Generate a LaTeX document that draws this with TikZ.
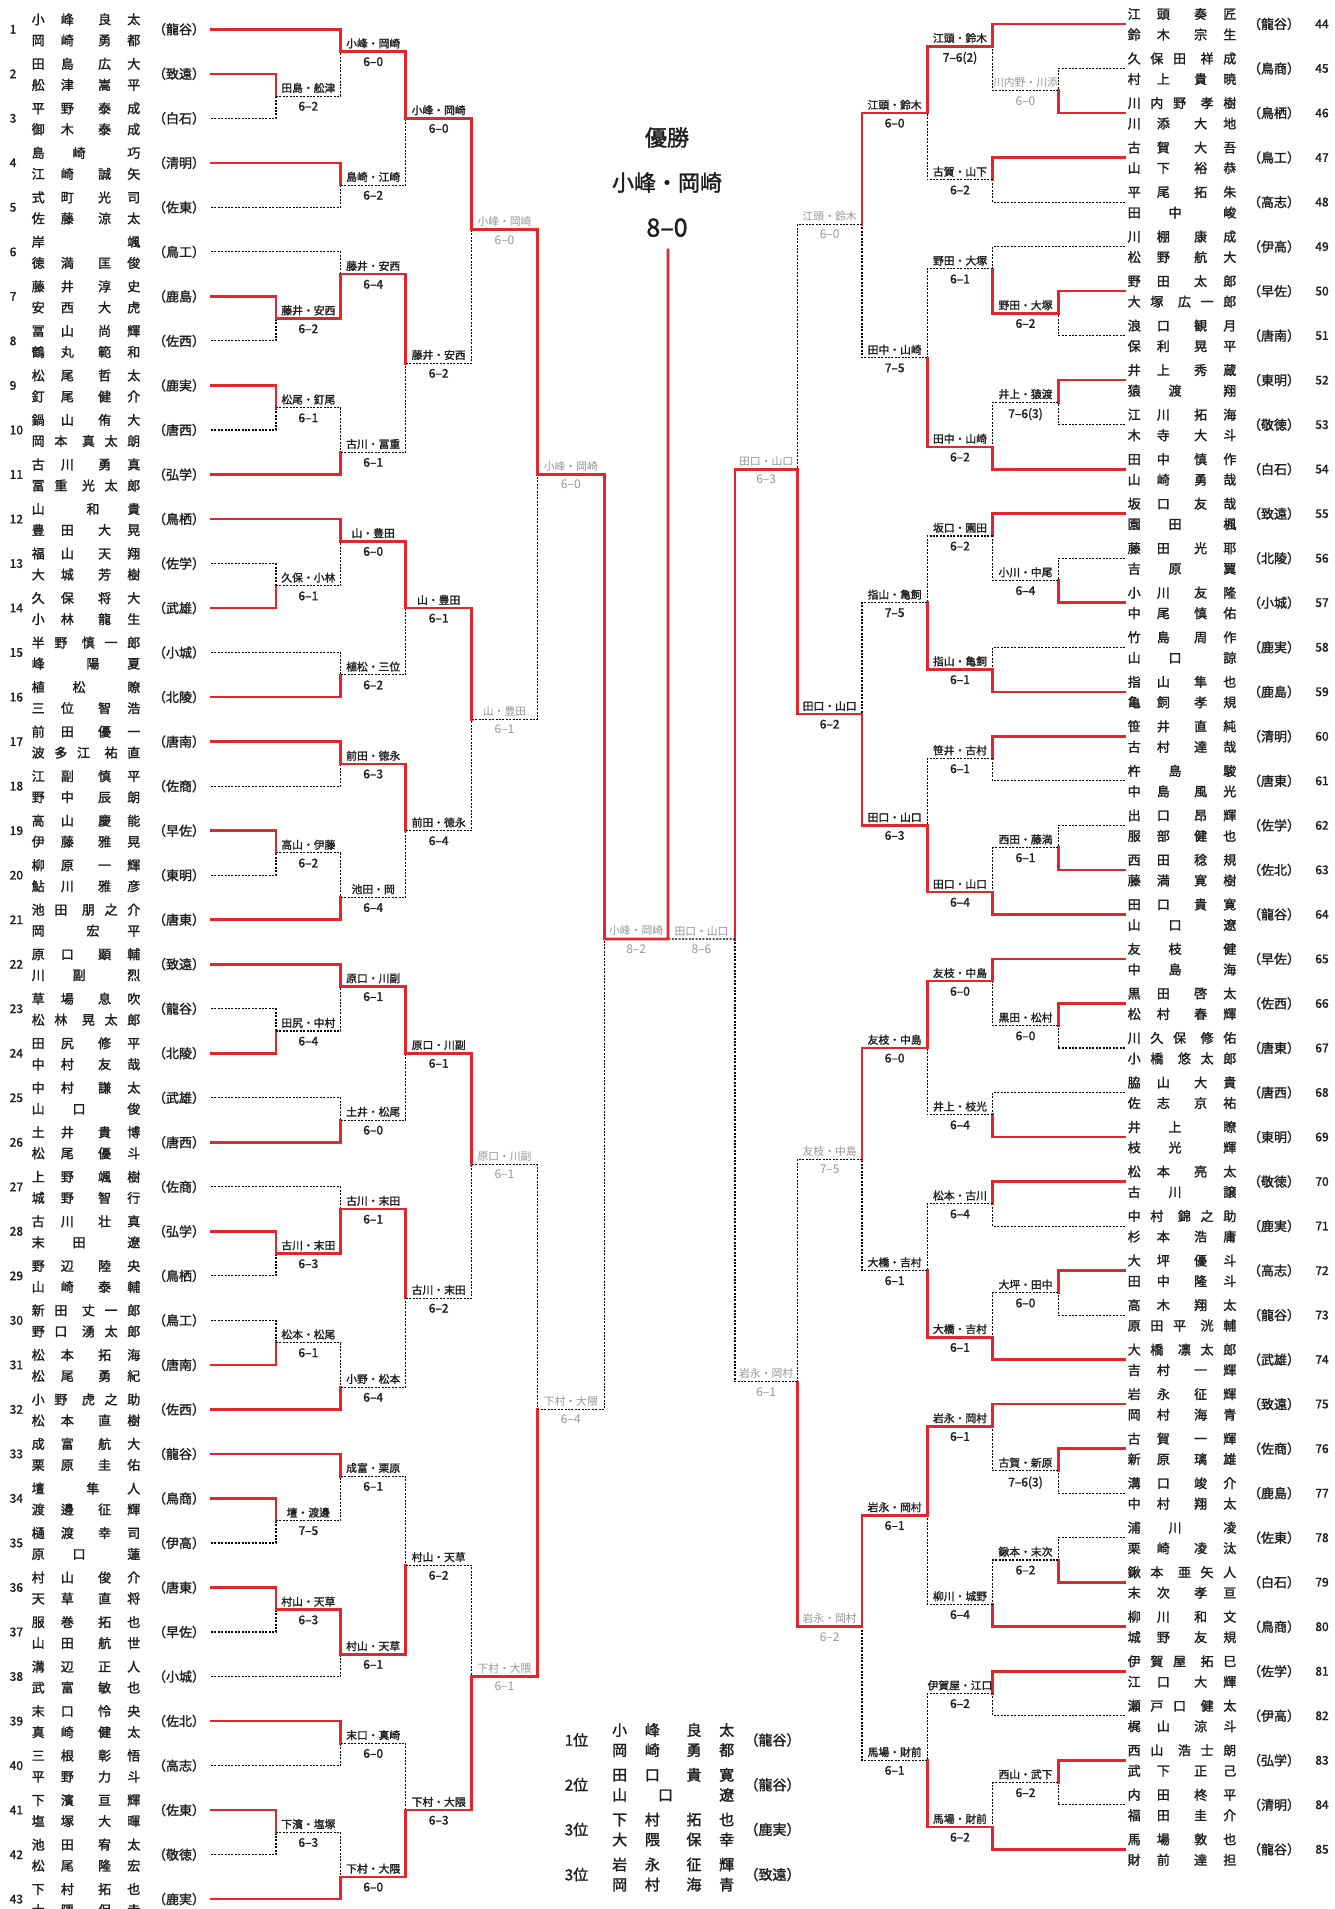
\documentclass[tikz,border=0pt]{standalone}
\usepackage{fontspec}
\setmainfont{Noto Sans CJK JP}[FakeBold=1.6]
\newfontfamily\thinjp{Noto Sans CJK JP}
\usetikzlibrary{positioning}
\definecolor{linered}{RGB}{228,38,44}
\definecolor{ink}{RGB}{30,30,30}
\definecolor{faded}{RGB}{150,150,150}

\newcommand\pn[3][108.6pt]{\hbox to #1{\spaceskip=0pt plus 2fill\relax #2\hskip 0pt plus 3fill\relax #3}}
\newcommand\ly[1]{29.3+(#1-1)*44.52}
\newcommand\ry[1]{24+(#1-44)*44.52}

\newcommand\lentry[6]{%
    \node[num, anchor=west] (k#1) at (9.5,{\ly{#1}}) {#1};
    \node[who] (a#1) at (31.5,{\ly{#1}-10}) {\pn{#2}{#3}};
    \node[who] (b#1) at (31.5,{\ly{#1}+11}) {\pn{#4}{#5}};
    \node[club] (s#1) at (179,{\ly{#1}}) {（#6）};
    \coordinate (L#1) at (211,{\ly{#1}});
}
\newcommand\rentry[6]{%
    \node[num] (k#1) at (1322,{\ry{#1}}) {#1};
    \node[who] (a#1) at (1127.5,{\ry{#1}-10}) {\pn{#2}{#3}};
    \node[who] (b#1) at (1127.5,{\ry{#1}+10.5}) {\pn{#4}{#5}};
    \node[club] (s#1) at (1274,{\ry{#1}}) {（#6）};
    \coordinate (R#1) at (1125,{\ry{#1}});
}
\newcommand\lmatch[9]{%
    \coordinate (#1) at (#2,{\ly{#4}});
    \draw[lose] (#6) -| (#1);
    \draw[win] (#5) -| (#1);
    \node[tag, #9] (#1t) at ({(#2+#3)/2},{\ly{#4}}) {#7};
    \node[pts, #9] (#1s) at ({(#2+#3)/2},{\ly{#4}}) {#8};
}
\newcommand\rmatch[9]{%
    \coordinate (#1) at (#2,{\ry{#4}});
    \draw[lose] (#6) -| (#1);
    \draw[win] (#5) -| (#1);
    \node[tag, #9] (#1t) at ({(#2+#3)/2},{\ry{#4}}) {#7};
    \node[pts, #9] (#1s) at ({(#2+#3)/2},{\ry{#4}}) {#8};
}

\begin{document}
\begin{tikzpicture}[x=1pt, y=-1pt,
    win/.style={draw=linered, line width=2.6pt, line cap=rect},
    lose/.style={draw=black, line width=1.1pt, dash pattern=on 2pt off 1.4pt},
    who/.style={anchor=west, inner sep=0pt, font=\fontsize{13}{13}\selectfont, text=ink},
    club/.style={inner sep=0pt, font=\fontsize{13}{13}\selectfont, text=ink},
    num/.style={inner sep=0pt, font=\fontsize{12}{12}\selectfont, text=ink},
    tag/.style={above=2.5pt, inner sep=0.5pt, font=\fontsize{10.8}{10.8}\selectfont},
    pts/.style={below=5pt, inner sep=0.5pt, font=\fontsize{12}{12}\selectfont},
    dark/.style={text=ink},
    pale/.style={text=faded, execute at begin node=\thinjp},
    headline/.style={inner sep=0pt, font=\fontsize{22}{22}\selectfont, text=ink},
    rank/.style={inner sep=0pt, font=\fontsize{15}{15}\selectfont, text=ink}]
    \useasboundingbox (0,0) rectangle (1335,1909);
    \fill[white] (0,0) rectangle (1335,1909);

    \lentry{1}{小 峰}{良 太}{岡 崎}{勇 都}{龍谷}
    \lentry{2}{田 島}{広 大}{舩 津}{嵩 平}{致遠}
    \lentry{3}{平 野}{泰 成}{御 木}{泰 成}{白石}
    \lentry{4}{島 崎}{巧}{江 崎}{誠 矢}{清明}
    \lentry{5}{式 町}{光 司}{佐 藤}{涼 太}{佐東}
    \lentry{6}{岸}{颯}{徳 満}{匡 俊}{鳥工}
    \lentry{7}{藤 井}{淳 史}{安 西}{大 虎}{鹿島}
    \lentry{8}{冨 山}{尚 輝}{鶴 丸}{範 和}{佐西}
    \lentry{9}{松 尾}{哲 太}{釘 尾}{健 介}{鹿実}
    \lentry{10}{鍋 山}{侑 大}{岡 本}{真 太 朗}{唐西}
    \lentry{11}{古 川}{勇 真}{冨 重}{光 太 郎}{弘学}
    \lentry{12}{山}{和 貴}{豊 田}{大 晃}{鳥栖}
    \lentry{13}{福 山}{天 翔}{大 城}{芳 樹}{佐学}
    \lentry{14}{久 保}{将 大}{小 林}{龍 生}{武雄}
    \lentry{15}{半 野}{慎 一 郎}{峰}{陽 夏}{小城}
    \lentry{16}{植 松}{瞭}{三 位}{智 浩}{北陵}
    \lentry{17}{前 田}{優 一}{波 多 江}{祐 直}{唐南}
    \lentry{18}{江 副}{慎 平}{野 中}{辰 朗}{佐商}
    \lentry{19}{高 山}{慶 能}{伊 藤}{雅 晃}{早佐}
    \lentry{20}{柳 原}{一 輝}{鮎 川}{雅 彦}{東明}
    \lentry{21}{池 田}{朋 之 介}{岡}{宏 平}{唐東}
    \lentry{22}{原 口}{顕 輔}{川 副}{烈}{致遠}
    \lentry{23}{草 場}{息 吹}{松 林}{晃 太 郎}{龍谷}
    \lentry{24}{田 尻}{修 平}{中 村}{友 哉}{北陵}
    \lentry{25}{中 村}{謙 太}{山 口}{俊}{武雄}
    \lentry{26}{土 井}{貴 博}{松 尾}{優 斗}{唐西}
    \lentry{27}{上 野}{颯 樹}{城 野}{智 行}{佐商}
    \lentry{28}{古 川}{壮 真}{末 田}{遼}{弘学}
    \lentry{29}{野 辺}{陸 央}{山 崎}{泰 輔}{鳥栖}
    \lentry{30}{新 田}{丈 一 郎}{野 口}{湧 太 郎}{鳥工}
    \lentry{31}{松 本}{拓 海}{松 尾}{勇 紀}{唐南}
    \lentry{32}{小 野}{虎 之 助}{松 本}{直 樹}{佐西}
    \lentry{33}{成 富}{航 大}{栗 原}{圭 佑}{龍谷}
    \lentry{34}{壇}{隼 人}{渡 邊}{征 輝}{鳥商}
    \lentry{35}{樋 渡}{幸 司}{原 口}{蓮}{伊高}
    \lentry{36}{村 山}{俊 介}{天 草}{直 将}{唐東}
    \lentry{37}{服 巻}{拓 也}{山 田}{航 世}{早佐}
    \lentry{38}{溝 辺}{正 人}{武 富}{敏 也}{小城}
    \lentry{39}{末 口}{怜 央}{真 崎}{健 太}{佐北}
    \lentry{40}{三 根}{彰 悟}{平 野}{力 斗}{高志}
    \lentry{41}{下 濱}{亘 輝}{塩 塚}{大 暉}{佐東}
    \lentry{42}{池 田}{宥 太}{松 尾}{隆 宏}{敬徳}
    \lentry{43}{下 村}{拓 也}{大 隈}{保 幸}{鹿実}

    \rentry{44}{江 頭}{奏 匠}{鈴 木}{宗 生}{龍谷}
    \rentry{45}{久 保 田}{祥 成}{村 上}{貴 暁}{鳥商}
    \rentry{46}{川 内 野}{孝 樹}{川 添}{大 地}{鳥栖}
    \rentry{47}{古 賀}{大 吾}{山 下}{裕 恭}{鳥工}
    \rentry{48}{平 尾}{拓 朱}{田 中}{峻}{高志}
    \rentry{49}{川 棚}{康 成}{松 野}{航 大}{伊高}
    \rentry{50}{野 田}{太 郎}{大 塚}{広 一 郎}{早佐}
    \rentry{51}{浪 口}{観 月}{保 利}{晃 平}{唐南}
    \rentry{52}{井 上}{秀 蔵}{猿 渡}{翔}{東明}
    \rentry{53}{江 川}{拓 海}{木 寺}{大 斗}{敬徳}
    \rentry{54}{田 中}{慎 作}{山 崎}{勇 哉}{白石}
    \rentry{55}{坂 口}{友 哉}{園 田}{楓}{致遠}
    \rentry{56}{藤 田}{光 耶}{吉 原}{翼}{北陵}
    \rentry{57}{小 川}{友 隆}{中 尾}{慎 佑}{小城}
    \rentry{58}{竹 島}{周 作}{山 口}{諒}{鹿実}
    \rentry{59}{指 山}{隼 也}{亀 飼}{孝 規}{鹿島}
    \rentry{60}{笹 井}{直 純}{古 村}{達 哉}{清明}
    \rentry{61}{杵 島}{駿}{中 島}{風 光}{唐東}
    \rentry{62}{出 口}{昂 輝}{服 部}{健 也}{佐学}
    \rentry{63}{西 田}{稔 規}{藤 満}{寛 樹}{佐北}
    \rentry{64}{田 口}{貴 寛}{山 口}{遼}{龍谷}
    \rentry{65}{友 枝}{健}{中 島}{海}{早佐}
    \rentry{66}{黒 田}{啓 太}{松 村}{春 輝}{佐西}
    \rentry{67}{川 久 保}{修 佑}{小 橋}{悠 太 郎}{唐東}
    \rentry{68}{脇 山}{大 貴}{佐 志}{京 祐}{唐西}
    \rentry{69}{井 上}{瞭}{枝 光}{輝}{東明}
    \rentry{70}{松 本}{亮 太}{古 川}{譲}{敬徳}
    \rentry{71}{中 村}{錦 之 助}{杉 本}{浩 庸}{鹿実}
    \rentry{72}{大 坪}{優 斗}{田 中}{隆 斗}{高志}
    \rentry{73}{高 木}{翔 太}{原 田 平}{洸 輔}{龍谷}
    \rentry{74}{大 橋}{凛 太 郎}{吉 村}{一 輝}{武雄}
    \rentry{75}{岩 永}{征 輝}{岡 村}{海 青}{致遠}
    \rentry{76}{古 賀}{一 輝}{新 原}{璃 雄}{佐商}
    \rentry{77}{溝 口}{竣 介}{中 村}{翔 太}{鹿島}
    \rentry{78}{浦 川}{凌}{栗 崎}{凌 汰}{佐東}
    \rentry{79}{鍬 本}{亜 矢 人}{末 次}{孝 亘}{白石}
    \rentry{80}{柳 川}{和 文}{城 野}{友 規}{鳥商}
    \rentry{81}{伊 賀 屋}{拓 巳}{江 口}{大 輝}{佐学}
    \rentry{82}{瀬 戸 口}{健 太}{梶 山}{涼 斗}{伊高}
    \rentry{83}{西 山}{浩 士 朗}{武 下}{正 己}{弘学}
    \rentry{84}{内 田}{柊 平}{福 田}{圭 介}{清明}
    \rentry{85}{馬 場}{敦 也}{財 前}{達 担}{龍谷}

    \lmatch{g2to3}{276}{340.7}{2.5}{L2}{L3}{田島・舩津}{6–2}{dark}
    \lmatch{g1to3}{340.7}{405.7}{1.5}{L1}{g2to3}{小峰・岡崎}{6–0}{dark}
    \lmatch{g4to5}{340.7}{405.7}{4.5}{L4}{L5}{島崎・江崎}{6–2}{dark}
    \lmatch{g1to5}{405.7}{471.7}{3}{g1to3}{g4to5}{小峰・岡崎}{6–0}{dark}
    \lmatch{g7to8}{276}{340.7}{7.5}{L7}{L8}{藤井・安西}{6–2}{dark}
    \lmatch{g6to8}{340.7}{405.7}{6.5}{g7to8}{L6}{藤井・安西}{6–4}{dark}
    \lmatch{g9to10}{276}{340.7}{9.5}{L9}{L10}{松尾・釘尾}{6–1}{dark}
    \lmatch{g9to11}{340.7}{405.7}{10.5}{L11}{g9to10}{古川・冨重}{6–1}{dark}
    \lmatch{g6to11}{405.7}{471.7}{8.5}{g6to8}{g9to11}{藤井・安西}{6–2}{dark}
    \lmatch{g1to11}{471.7}{537.3}{5.5}{g1to5}{g6to11}{小峰・岡崎}{6–0}{pale}
    \lmatch{g13to14}{276}{340.7}{13.5}{L14}{L13}{久保・小林}{6–1}{dark}
    \lmatch{g12to14}{340.7}{405.7}{12.5}{L12}{g13to14}{山・豊田}{6–0}{dark}
    \lmatch{g15to16}{340.7}{405.7}{15.5}{L16}{L15}{植松・三位}{6–2}{dark}
    \lmatch{g12to16}{405.7}{471.7}{14}{g12to14}{g15to16}{山・豊田}{6–1}{dark}
    \lmatch{g17to18}{340.7}{405.7}{17.5}{L17}{L18}{前田・徳永}{6–3}{dark}
    \lmatch{g19to20}{276}{340.7}{19.5}{L19}{L20}{高山・伊藤}{6–2}{dark}
    \lmatch{g19to21}{340.7}{405.7}{20.5}{L21}{g19to20}{池田・岡}{6–4}{dark}
    \lmatch{g17to21}{405.7}{471.7}{19}{g17to18}{g19to21}{前田・徳永}{6–4}{dark}
    \lmatch{g12to21}{471.7}{537.3}{16.5}{g12to16}{g17to21}{山・豊田}{6–1}{pale}
    \lmatch{g1to21}{537.3}{604.3}{11}{g1to11}{g12to21}{小峰・岡崎}{6–0}{pale}
    \lmatch{g23to24}{276}{340.7}{23.5}{L24}{L23}{田尻・中村}{6–4}{dark}
    \lmatch{g22to24}{340.7}{405.7}{22.5}{L22}{g23to24}{原口・川副}{6–1}{dark}
    \lmatch{g25to26}{340.7}{405.7}{25.5}{L26}{L25}{土井・松尾}{6–0}{dark}
    \lmatch{g22to26}{405.7}{471.7}{24}{g22to24}{g25to26}{原口・川副}{6–1}{dark}
    \lmatch{g28to29}{276}{340.7}{28.5}{L28}{L29}{古川・末田}{6–3}{dark}
    \lmatch{g27to29}{340.7}{405.7}{27.5}{g28to29}{L27}{古川・末田}{6–1}{dark}
    \lmatch{g30to31}{276}{340.7}{30.5}{L31}{L30}{松本・松尾}{6–1}{dark}
    \lmatch{g30to32}{340.7}{405.7}{31.5}{L32}{g30to31}{小野・松本}{6–4}{dark}
    \lmatch{g27to32}{405.7}{471.7}{29.5}{g27to29}{g30to32}{古川・末田}{6–2}{dark}
    \lmatch{g22to32}{471.7}{537.3}{26.5}{g22to26}{g27to32}{原口・川副}{6–1}{pale}
    \lmatch{g34to35}{276}{340.7}{34.5}{L34}{L35}{壇・渡邊}{7–5}{dark}
    \lmatch{g33to35}{340.7}{405.7}{33.5}{L33}{g34to35}{成富・栗原}{6–1}{dark}
    \lmatch{g36to37}{276}{340.7}{36.5}{L36}{L37}{村山・天草}{6–3}{dark}
    \lmatch{g36to38}{340.7}{405.7}{37.5}{g36to37}{L38}{村山・天草}{6–1}{dark}
    \lmatch{g33to38}{405.7}{471.7}{35.5}{g36to38}{g33to35}{村山・天草}{6–2}{dark}
    \lmatch{g39to40}{340.7}{405.7}{39.5}{L39}{L40}{末口・真崎}{6–0}{dark}
    \lmatch{g41to42}{276}{340.7}{41.5}{L41}{L42}{下濱・塩塚}{6–3}{dark}
    \lmatch{g41to43}{340.7}{405.7}{42.5}{L43}{g41to42}{下村・大隈}{6–0}{dark}
    \lmatch{g39to43}{405.7}{471.7}{41}{g41to43}{g39to40}{下村・大隈}{6–3}{dark}
    \lmatch{g33to43}{471.7}{537.3}{38}{g39to43}{g33to38}{下村・大隈}{6–1}{pale}
    \lmatch{g22to43}{537.3}{604.3}{32}{g33to43}{g22to32}{下村・大隈}{6–4}{pale}
    \lmatch{g1to43}{604.3}{668}{21.434}{g1to21}{g22to43}{小峰・岡崎}{8–2}{pale}

    \rmatch{h45to46}{1058.3}{992.7}{45.5}{R46}{R45}{川内野・川添}{6–0}{pale}
    \rmatch{h44to46}{992.7}{927.3}{44.5}{R44}{h45to46}{江頭・鈴木}{7–6(2)}{dark}
    \rmatch{h47to48}{992.7}{927.3}{47.5}{R47}{R48}{古賀・山下}{6–2}{dark}
    \rmatch{h44to48}{927.3}{862}{46}{h44to46}{h47to48}{江頭・鈴木}{6–0}{dark}
    \rmatch{h50to51}{1058.3}{992.7}{50.5}{R50}{R51}{野田・大塚}{6–2}{dark}
    \rmatch{h49to51}{992.7}{927.3}{49.5}{h50to51}{R49}{野田・大塚}{6–1}{dark}
    \rmatch{h52to53}{1058.3}{992.7}{52.5}{R52}{R53}{井上・猿渡}{7–6(3)}{dark}
    \rmatch{h52to54}{992.7}{927.3}{53.5}{R54}{h52to53}{田中・山崎}{6–2}{dark}
    \rmatch{h49to54}{927.3}{862}{51.5}{h52to54}{h49to51}{田中・山崎}{7–5}{dark}
    \rmatch{h44to54}{862}{797.3}{48.5}{h44to48}{h49to54}{江頭・鈴木}{6–0}{pale}
    \rmatch{h56to57}{1058.3}{992.7}{56.5}{R57}{R56}{小川・中尾}{6–4}{dark}
    \rmatch{h55to57}{992.7}{927.3}{55.5}{R55}{h56to57}{坂口・園田}{6–2}{dark}
    \rmatch{h58to59}{992.7}{927.3}{58.5}{R59}{R58}{指山・亀飼}{6–1}{dark}
    \rmatch{h55to59}{927.3}{862}{57}{h58to59}{h55to57}{指山・亀飼}{7–5}{dark}
    \rmatch{h60to61}{992.7}{927.3}{60.5}{R60}{R61}{笹井・古村}{6–1}{dark}
    \rmatch{h62to63}{1058.3}{992.7}{62.5}{R63}{R62}{西田・藤満}{6–1}{dark}
    \rmatch{h62to64}{992.7}{927.3}{63.5}{R64}{h62to63}{田口・山口}{6–4}{dark}
    \rmatch{h60to64}{927.3}{862}{62}{h62to64}{h60to61}{田口・山口}{6–3}{dark}
    \rmatch{h55to64}{862}{797.3}{59.5}{h60to64}{h55to59}{田口・山口}{6–2}{dark}
    \rmatch{h44to64}{797.3}{735}{54}{h55to64}{h44to54}{田口・山口}{6–3}{pale}
    \rmatch{h66to67}{1058.3}{992.7}{66.5}{R66}{R67}{黒田・松村}{6–0}{dark}
    \rmatch{h65to67}{992.7}{927.3}{65.5}{R65}{h66to67}{友枝・中島}{6–0}{dark}
    \rmatch{h68to69}{992.7}{927.3}{68.5}{R69}{R68}{井上・枝光}{6–4}{dark}
    \rmatch{h65to69}{927.3}{862}{67}{h65to67}{h68to69}{友枝・中島}{6–0}{dark}
    \rmatch{h70to71}{992.7}{927.3}{70.5}{R70}{R71}{松本・古川}{6–4}{dark}
    \rmatch{h72to73}{1058.3}{992.7}{72.5}{R72}{R73}{大坪・田中}{6–0}{dark}
    \rmatch{h72to74}{992.7}{927.3}{73.5}{R74}{h72to73}{大橋・吉村}{6–1}{dark}
    \rmatch{h70to74}{927.3}{862}{72}{h72to74}{h70to71}{大橋・吉村}{6–1}{dark}
    \rmatch{h65to74}{862}{797.3}{69.5}{h65to69}{h70to74}{友枝・中島}{7–5}{pale}
    \rmatch{h76to77}{1058.3}{992.7}{76.5}{R76}{R77}{古賀・新原}{7–6(3)}{dark}
    \rmatch{h75to77}{992.7}{927.3}{75.5}{R75}{h76to77}{岩永・岡村}{6–1}{dark}
    \rmatch{h78to79}{1058.3}{992.7}{78.5}{R79}{R78}{鍬本・末次}{6–2}{dark}
    \rmatch{h78to80}{992.7}{927.3}{79.5}{R80}{h78to79}{柳川・城野}{6–4}{dark}
    \rmatch{h75to80}{927.3}{862}{77.5}{h75to77}{h78to80}{岩永・岡村}{6–1}{dark}
    \rmatch{h81to82}{992.7}{927.3}{81.5}{R81}{R82}{伊賀屋・江口}{6–2}{dark}
    \rmatch{h83to84}{1058.3}{992.7}{83.5}{R83}{R84}{西山・武下}{6–2}{dark}
    \rmatch{h83to85}{992.7}{927.3}{84.5}{R85}{h83to84}{馬場・財前}{6–2}{dark}
    \rmatch{h81to85}{927.3}{862}{83}{h83to85}{h81to82}{馬場・財前}{6–1}{dark}
    \rmatch{h75to85}{862}{797.3}{80}{h75to80}{h81to85}{岩永・岡村}{6–2}{pale}
    \rmatch{h65to85}{797.3}{735}{74.5}{h75to85}{h65to74}{岩永・岡村}{6–1}{pale}
    \rmatch{h44to85}{735}{668}{64.553}{h44to64}{h65to85}{田口・山口}{8–6}{pale}

    \node[headline] (champ) at (667,137.5) {優勝};
    \node[headline] (champname) at (667,182.5) {小峰・岡崎};
    \node[headline, font=\fontsize{25}{25}\selectfont] (champscore) at (667,227.6) {8–0};
    \coordinate (fin) at (668,939);
    \coordinate (finTop) at (668,250);
    \draw[lose] (h44to85) -- (fin);
    \draw[win] (g1to43) -- (fin) -- (finTop);

    \node[rank] (p1) at (576.5,1740) {1位};
    \node[who, font=\fontsize{15}{15}\selectfont] (p1a) at (612,1730) {\pn[122pt]{小 峰}{良 太}};
    \node[who, font=\fontsize{15}{15}\selectfont] (p1b) at (612,1750) {\pn[122pt]{岡 崎}{勇 都}};
    \node[club, font=\fontsize{14}{14}\selectfont] (p1s) at (772.5,1740) {（龍谷）};
    \node[rank] (p2) at (576.5,1784.8) {2位};
    \node[who, font=\fontsize{15}{15}\selectfont] (p2a) at (612,1774.8) {\pn[122pt]{田 口}{貴 寛}};
    \node[who, font=\fontsize{15}{15}\selectfont] (p2b) at (612,1794.8) {\pn[122pt]{山 口}{遼}};
    \node[club, font=\fontsize{14}{14}\selectfont] (p2s) at (772.5,1784.8) {（龍谷）};
    \node[rank] (p3) at (576.5,1829.5) {3位};
    \node[who, font=\fontsize{15}{15}\selectfont] (p3a) at (612,1819.5) {\pn[122pt]{下 村}{拓 也}};
    \node[who, font=\fontsize{15}{15}\selectfont] (p3b) at (612,1839.5) {\pn[122pt]{大 隈}{保 幸}};
    \node[club, font=\fontsize{14}{14}\selectfont] (p3s) at (772.5,1829.5) {（鹿実）};
    \node[rank] (p4) at (576.5,1874.5) {3位};
    \node[who, font=\fontsize{15}{15}\selectfont] (p4a) at (612,1864.5) {\pn[122pt]{岩 永}{征 輝}};
    \node[who, font=\fontsize{15}{15}\selectfont] (p4b) at (612,1884.5) {\pn[122pt]{岡 村}{海 青}};
    \node[club, font=\fontsize{14}{14}\selectfont] (p4s) at (772.5,1874.5) {（致遠）};
\end{tikzpicture}
\end{document}
